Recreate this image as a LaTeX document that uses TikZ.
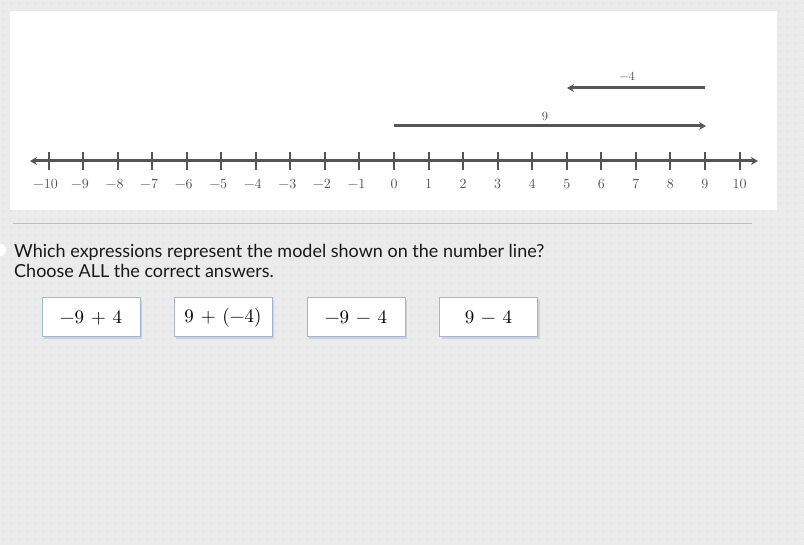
\documentclass[tikz,border=0pt]{standalone}
\usepackage{fontspec}
\setsansfont{Lato}
\newfontfamily\cmten{lmroman10-regular}[Extension=.otf]
\usetikzlibrary{arrows.meta}
\definecolor{bgcol}{HTML}{EBEBEB}
\definecolor{dotcol}{HTML}{DEDEDE}
\definecolor{linecol}{HTML}{555555}
\definecolor{labcol}{HTML}{555555}
\definecolor{boxborder}{HTML}{A3B5D3}
\definecolor{sepcol}{HTML}{BDBDBD}
\newcommand{\opsp}{\hspace{0.36em}}
\tikzset{
  axisline/.style={line width=3pt, draw=linecol},
  tickmark/.style={line width=2pt, draw=linecol},
  numlab/.style={text=labcol, font=\cmten\fontsize{14}{16}\selectfont, inner sep=0pt},
  vecline/.style={line width=3pt, draw=linecol, -{Stealth[length=7pt,width=8pt]}},
  veclab/.style={text=labcol, font=\cmten\fontsize{12.5}{14}\selectfont, inner sep=0pt},
  answerbox/.style={draw=boxborder, line width=1pt, fill=white, minimum width=98pt, minimum height=39pt, inner sep=0pt, font=\cmten\fontsize{19}{21}\selectfont},
  shadowbox/.style={fill=black!18, minimum width=98pt, minimum height=39pt, inner sep=0pt},
  question/.style={font=\sffamily\fontsize{18}{20}\selectfont, text=black!90, inner sep=0pt, anchor=base west, align=left}
}
\begin{document}
\begin{tikzpicture}[x=1pt,y=-1pt]
\useasboundingbox (0,0) rectangle (804,545);
\fill[bgcol] (0,0) rectangle (804,545);
\foreach \i in {0,...,100}{
  \foreach \j in {0,...,68}{
    \fill[dotcol] (\i*8+3,\j*8+3) circle (0.8pt);
  }
}
% white panel
\fill[white] (10,11) rectangle (777,210);
% number line
\coordinate (L) at (30,161);
\coordinate (R) at (758,161);
\draw[axisline, {Stealth[length=7pt,width=8pt]}-{Stealth[length=7pt,width=8pt]}] (L) -- (R);
\foreach \n in {-10,...,10}{
  \pgfmathsetmacro{\xx}{394+34.55*\n}
  \coordinate (t\n) at (\xx,161);
  \draw[tickmark] (\xx,152) -- (\xx,170);
  \ifnum\n<0
    \node[numlab] (n\n) at (\xx-3,184) {−\the\numexpr-\n\relax};
  \else
    \node[numlab] (n\n) at (\xx,184) {\n};
  \fi
}
% vectors
\coordinate (a0) at (394,126);
\coordinate (a9) at (706,126);
\draw[vecline] (a0) -- (a9);
\node[veclab] (lab9) at (545,116) {9};
\coordinate (b9) at (705,88);
\coordinate (b5) at (567,88);
\draw[vecline] (b9) -- (b5);
\node[veclab] (lab4) at (627,76) {−4};
% separator
\coordinate (s1) at (13,224);
\coordinate (s2) at (752,224);
\draw[sepcol, line width=1pt] (s1) -- (s2);
% left circle
\fill[white] (0,250) circle (6pt);
% question
\node[question] (q1) at (14,258) {Which expressions represent the model shown on the number line?};
\node[question] (q2) at (14,278) {Choose ALL the correct answers.};
% answer boxes
\foreach \cx/\nm/\txt in {91/b1/{−9\opsp+\opsp4}, 223/b2/{9\opsp+\opsp(−4)}, 356/b3/{−9\opsp−\opsp4}, 488.5/b4/{9\opsp−\opsp4}}{
  \node[shadowbox] at (\cx+2,319.5) {};
  \node[answerbox] (\nm) at (\cx,317.5) {\txt};
}
\end{tikzpicture}
\end{document}
